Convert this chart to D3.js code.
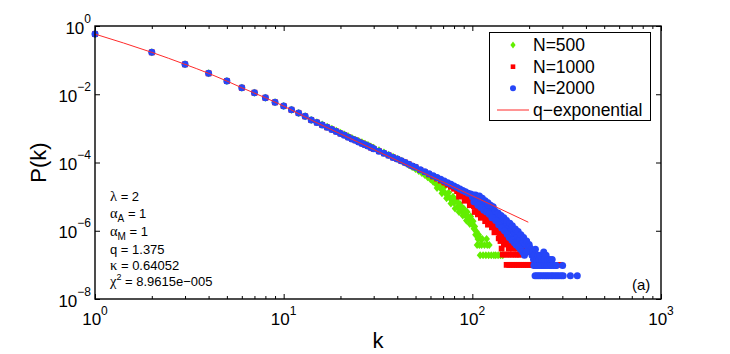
<!DOCTYPE html>
<html><head><meta charset="utf-8">
<script src="https://cdn.jsdelivr.net/npm/d3@7"></script>
<style>body{margin:0;background:#fff}svg{display:block}</style>
</head><body>
<svg id="c" width="730" height="354"></svg>
<script>
// ---- data ----
// head, k = 1..14, shared by all three sizes
const kHead = [1,2,3,4,5,6,7,8,9,10,11,12,13,14];
const pHead = [0.58,0.169,0.0753,0.041,0.0244,0.0155,0.0111,0.0079,0.0058,0.0045,0.0035,0.0028,0.00225,0.00175];
// middle, shared by N=1000 and N=2000
const kMid = [15,16,17,18,19,20,21,22,23,24,25,26,27,28,29,30,32,34,36,38,40,42,44,46,48,50];
const pMid = [1.48e-3,1.26e-3,1.07e-3,9.33e-4,8.13e-4,7.08e-4,6.31e-4,5.50e-4,4.90e-4,4.47e-4,3.98e-4,3.63e-4,3.31e-4,3.02e-4,2.75e-4,2.51e-4,2.14e-4,1.86e-4,1.62e-4,1.41e-4,1.26e-4,1.12e-4,1.00e-4,8.91e-5,7.94e-5,7.24e-5];
// N=500 (own values from k=15)
const kN500 = [15,16,17,18,19,20,21,22,23,24,25,26,27,28,29,30,32,34,36,38,40,42,44,46,48,50,52,54,56,58,60,62,64,66,68,70,72,74,76,78,80,82,84,86,88,90,92,94,96,98,100,101,102,103,104,105,106,107,108,109,110,111,112,113,114,116,118,119,120,122,123,126,130,133,137,141,145,
  63,65,67,69,71,73,75,77,79,81,83,85,87,89,91,93,95,97,99];
const pN500 = [1.51e-3,1.29e-3,1.12e-3,9.77e-4,8.51e-4,7.41e-4,6.61e-4,5.89e-4,5.25e-4,4.68e-4,4.27e-4,3.89e-4,3.55e-4,3.24e-4,2.95e-4,2.69e-4,2.29e-4,1.95e-4,1.70e-4,1.48e-4,1.29e-4,1.12e-4,9.77e-5,8.51e-5,7.41e-5,6.46e-5,5.62e-5,4.90e-5,4.27e-5,3.72e-5,3.24e-5,2.75e-5,2.40e-5,2.00e-5,1.74e-5,1.45e-5,1.26e-5,1.05e-5,9.12e-6,7.59e-6,6.61e-6,7.94e-6,5.01e-6,6.03e-6,3.80e-6,4.47e-6,2.82e-6,3.55e-6,2.09e-6,2.63e-6,1.52e-6,1.9e-6,1.14e-6,1.33e-6,7.6e-7,9.5e-7,3.8e-7,5.7e-7,7.6e-7,3.8e-7,1.9e-7,5.7e-7,3.8e-7,5.7e-7,1.9e-7,3.8e-7,1.9e-7,5.7e-7,3.8e-7,1.9e-7,3.8e-7,1.9e-7,1.9e-7,1.9e-7,1.9e-7,1.9e-7,1.9e-7,
  3.16e-5,1.78e-5,2.40e-5,1.26e-5,1.91e-5,8.91e-6,1.32e-5,6.31e-6,1.0e-5,4.47e-6,7.08e-6,3.55e-6,5.01e-6,2.82e-6,3.98e-6,2.0e-6,2.51e-6,1.58e-6,1.91e-6];
// N=1000 tail (from k=53)
const kN1000 = [53,56,59,62,65,68,71,74,77,80,83,86,89,92,95,98,99,101,102,104,106,108,110,112,114,116,118,120,122,124,126,128,130,132,135,137,140,142,144,145,146,148,149,150,151,152,153,155,156,157,158,160,161,162,164,165,167,168,170,172,173,175,177,179,182,184,187,192,197,202,207,292,
  85,87,91,93,97,103,105,107,109,111,113,117,119,121,123,127,131,134,138,141,143,147];
const pN1000 = [6.03e-5,5.25e-5,4.47e-5,3.89e-5,3.39e-5,2.95e-5,2.57e-5,2.24e-5,1.95e-5,1.70e-5,1.45e-5,1.26e-5,1.07e-5,9.33e-6,7.94e-6,7.08e-6,6.03e-6,7.08e-6,5.25e-6,6.03e-6,4.17e-6,5.01e-6,3.39e-6,4.17e-6,2.82e-6,3.55e-6,2.40e-6,3.02e-6,2.00e-6,2.51e-6,1.66e-6,2.09e-6,1.32e-6,1.74e-6,1.0e-6,1.3e-6,8e-7,1.1e-6,6e-7,2e-7,9e-7,5e-7,7e-7,2e-7,4e-7,1e-7,6e-7,2e-7,3e-7,1e-7,5e-7,2e-7,4e-7,1e-7,3e-7,2e-7,1e-7,4e-7,2e-7,1e-7,3e-7,2e-7,1e-7,2e-7,1e-7,3e-7,1e-7,1e-7,1e-7,1e-7,1e-7,1e-7,
  1.0e-5,1.41e-5,7.59e-6,1.05e-5,5.62e-6,3.55e-6,7.59e-6,3.02e-6,6.31e-6,2.40e-6,4.79e-6,1.91e-6,3.98e-6,1.51e-6,3.16e-6,1.26e-6,9e-7,2.24e-6,6e-7,5e-7,3e-7,4e-7];
// N=2000 tail (from k=53)
const kN2000 = [53,56,59,62,65,68,71,74,77,80,83,86,89,92,95,98,100,101,103,105,106,108,110,112,114,116,118,120,122,124,126,128,130,132,135,137,140,142,145,147,150,152,155,158,160,163,166,169,172,175,178,181,184,187,190,194,197,200,201,203,205,207,209,211,212,213,215,216,217,219,220,222,223,225,226,227,229,230,232,233,236,237,239,241,242,243,246,248,249,251,254,256,258,261,262,265,267,269,274,276,279,281,288,296,301,303,331,360,
  102,104,107,109,111,113,115,117,119,121,123,125,127,129,133,138,143,148,153,157,162,167,171,176,180,185,189,193];
const pN2000 = [6.17e-5,5.37e-5,4.68e-5,4.07e-5,3.63e-5,3.24e-5,2.88e-5,2.57e-5,2.29e-5,2.04e-5,1.86e-5,1.66e-5,1.51e-5,1.38e-5,1.26e-5,1.20e-5,1.00e-5,1.12e-5,8.91e-6,1.05e-5,7.94e-6,8.91e-6,6.61e-6,7.94e-6,5.62e-6,7.08e-6,5.01e-6,6.03e-6,4.17e-6,5.25e-6,3.55e-6,4.47e-6,3.02e-6,3.80e-6,2.51e-6,3.31e-6,2.00e-6,2.82e-6,1.66e-6,2.40e-6,1.41e-6,2.00e-6,1.20e-6,1.66e-6,1.00e-6,1.41e-6,7.94e-7,1.12e-6,6.31e-7,9.55e-7,5.25e-7,7.59e-7,4.47e-7,6.31e-7,3.80e-7,5.01e-7,2.88e-7,3.98e-7,3.36e-7,2.4e-7,2.88e-7,1.92e-7,2.4e-7,1.44e-7,9.6e-8,1.92e-7,4.8e-8,2.88e-7,9.6e-8,1.44e-7,4.8e-8,9.6e-8,1.92e-7,4.8e-8,1.44e-7,9.6e-8,1.92e-7,4.8e-8,9.6e-8,1.44e-7,4.8e-8,9.6e-8,2.4e-7,1.44e-7,4.8e-8,9.6e-8,1.92e-7,4.8e-8,9.6e-8,1.44e-7,4.8e-8,9.6e-8,1.44e-7,4.8e-8,9.6e-8,1.44e-7,4.8e-8,9.6e-8,4.8e-8,9.6e-8,9.6e-8,4.8e-8,4.8e-8,4.8e-8,9.6e-8,4.8e-8,4.8e-8,4.8e-8,
  7.08e-6,1.12e-5,5.62e-6,1.05e-5,4.79e-6,8.91e-6,3.98e-6,7.59e-6,3.55e-6,6.61e-6,3.02e-6,5.62e-6,2.40e-6,5.01e-6,2.0e-6,1.51e-6,1.2e-6,1.0e-6,7.94e-7,6.31e-7,5.25e-7,4.47e-7,3.84e-7,3.36e-7,2.88e-7,2.4e-7,1.92e-7,2.4e-7];
// q-exponential fit curve
const kFit = [1,2,3,4,5,6,8,10,14,20,30,41,60,93,140,198];
const pFit = [0.58,0.169,0.0753,0.041,0.0244,0.0155,0.0079,0.0045,0.00175,6.92e-4,2.41e-4,1.07e-4,3.98e-5,1.28e-5,4.40e-6,1.78e-6];

const xTicks = [1,10,100,1000];
const xTickExp = ["0","1","2","3"];
const yTicks = [1,1e-2,1e-4,1e-6,1e-8];
const yTickExp = ["0","\u22122","\u22124","\u22126","\u22128"];
const seriesNames = ["N=500","N=1000","N=2000"];
const fitName = "q\u2212exponential";
const panelLabel = "(a)";

// ---- drawing ----
const svg = d3.select("#c");
svg.append("rect").attr("width",730).attr("height",354).attr("fill","#fff");
const L=95, R=661, T=26, B=299;
const x = d3.scaleLog().domain([1,1000]).range([L,R]);
const y = d3.scaleLog().domain([1e-8,1]).range([B,T]);
const FONT = "'Liberation Sans', Arial, Helvetica, sans-serif";
const SERIF = "'Liberation Serif', 'Times New Roman', serif";

const colGreen="#62ee00", colRed="#ff0000", colBlue="#2646f8";

function zip(ks, ps){ return ks.map((k,i)=>({k, p:ps[i]})); }
const d500 = zip(kHead,pHead).concat(zip(kN500,pN500));
const d1000 = zip(kHead,pHead).concat(zip(kMid,pMid), zip(kN1000,pN1000));
const d2000 = zip(kHead,pHead).concat(zip(kMid,pMid), zip(kN2000,pN2000));
const dFit = zip(kFit,pFit);

// minor ticks
const xMinor = [];
[1,10,100].forEach(d=>{ for(let m=2;m<=9;m++) xMinor.push(d*m); });

function styleAxis(g){
  g.select(".domain").remove();
  g.selectAll(".tick line").attr("stroke","#000").attr("stroke-width",1);
  g.selectAll(".tick text").remove();
}
svg.append("g").attr("transform",`translate(0,${B})`).call(d3.axisBottom(x).tickValues(xTicks).tickSizeInner(-5).tickSizeOuter(0)).call(styleAxis);
svg.append("g").attr("transform",`translate(0,${B})`).call(d3.axisBottom(x).tickValues(xMinor).tickSizeInner(-3).tickSizeOuter(0)).call(styleAxis);
svg.append("g").attr("transform",`translate(0,${T})`).call(d3.axisTop(x).tickValues(xTicks).tickSizeInner(-5).tickSizeOuter(0)).call(styleAxis);
svg.append("g").attr("transform",`translate(0,${T})`).call(d3.axisTop(x).tickValues(xMinor).tickSizeInner(-3).tickSizeOuter(0)).call(styleAxis);
svg.append("g").attr("transform",`translate(${L},0)`).call(d3.axisLeft(y).tickValues(yTicks).tickSizeInner(-5).tickSizeOuter(0)).call(styleAxis);
svg.append("g").attr("transform",`translate(${R},0)`).call(d3.axisRight(y).tickValues(yTicks).tickSizeInner(-5).tickSizeOuter(0)).call(styleAxis);

// tick labels
xTicks.forEach((v,i)=>{
  const t = svg.append("text").attr("x",x(v)).attr("y",325).attr("text-anchor","middle")
    .style("font-family",FONT).style("font-size","17px").attr("fill","#000");
  t.append("tspan").text("10");
  t.append("tspan").attr("dy",-10).style("font-size","12px").text(xTickExp[i]);
});
yTicks.forEach((v,i)=>{
  const t = svg.append("text").attr("x",91).attr("y",y(v)+7.5).attr("text-anchor","end")
    .style("font-family",FONT).style("font-size","17px").attr("fill","#000");
  t.append("tspan").text("10");
  t.append("tspan").attr("dy",-11).style("font-size","12px").text(yTickExp[i]);
});

// axis titles
svg.append("text").attr("x",(L+R)/2).attr("y",348).attr("text-anchor","middle")
  .style("font-family",FONT).style("font-size","22px").text("k");
svg.append("text").attr("transform",`translate(46,${(T+B)/2}) rotate(-90)`).attr("text-anchor","middle")
  .style("font-family",FONT).style("font-size","22px").text("P(k)");

// markers
const diamond = "M0,-4L3.4,0L0,4L-3.4,0Z";
svg.append("g").selectAll("path").data(d500).join("path")
  .attr("d",diamond).attr("transform",d=>`translate(${x(d.k)},${y(d.p)})`).attr("fill",colGreen);
svg.append("g").selectAll("rect").data(d1000).join("rect")
  .attr("x",d=>x(d.k)-2.9).attr("y",d=>y(d.p)-2.9).attr("width",5.8).attr("height",5.8).attr("fill",colRed);
svg.append("g").selectAll("circle").data(d2000).join("circle")
  .attr("cx",d=>x(d.k)).attr("cy",d=>y(d.p)).attr("r",3.5).attr("fill",colBlue);

// fit line
svg.append("path").datum(dFit)
  .attr("d",d3.line().x(d=>x(d.k)).y(d=>y(d.p)).curve(d3.curveMonotoneX))
  .attr("fill","none").attr("stroke","#ff2a2a").attr("stroke-width",1);

// frame
svg.append("rect").attr("x",L).attr("y",T).attr("width",R-L).attr("height",B-T)
  .attr("fill","none").attr("stroke","#000").attr("stroke-width",1.4);

// legend
const lg = svg.append("g");
lg.append("rect").attr("x",489.5).attr("y",32.5).attr("width",161).attr("height",88)
  .attr("fill","#fff").attr("stroke","#000").attr("stroke-width",1);
const rows = [45,66.7,88.3,110];
lg.append("path").attr("d","M0,-3.6L2.6,0L0,3.6L-2.6,0Z").attr("transform",`translate(513,${rows[0]})`).attr("fill",colGreen);
lg.append("rect").attr("x",513-2.3).attr("y",rows[1]-2.3).attr("width",4.6).attr("height",4.6).attr("fill",colRed);
lg.append("circle").attr("cx",513).attr("cy",rows[2]).attr("r",3).attr("fill",colBlue);
lg.append("line").attr("x1",497).attr("x2",529).attr("y1",rows[3]).attr("y2",rows[3]).attr("stroke","#ff2a2a").attr("stroke-width",1);
seriesNames.concat([fitName]).forEach((s,i)=>{
  lg.append("text").attr("x",533).attr("y",rows[i]+6).style("font-family",FONT).style("font-size","17.5px").text(s);
});

// parameter annotation
const ann = svg.append("g").style("font-family",FONT).style("font-size","13px");
function line(yb, parts){
  const t = ann.append("text").attr("x",110).attr("y",yb);
  parts.forEach(p=>{
    const ts = t.append("tspan").text(p.t);
    if(p.serif) ts.style("font-family",SERIF).style("font-size","14.5px");
    if(p.dy) ts.attr("dy",p.dy);
    if(p.fs) ts.style("font-size",p.fs);
  });
}
line(201,[{t:"\u03bb",serif:true},{t:" = 2"}]);
line(218,[{t:"\u03b1",serif:true},{t:"A",dy:4,fs:"10px"},{t:" = 1",dy:-4}]);
line(236,[{t:"\u03b1",serif:true},{t:"M",dy:4,fs:"10px"},{t:" = 1",dy:-4}]);
line(254,[{t:"q = 1.375"}]);
line(270,[{t:"\u03ba",serif:true},{t:" = 0.64052"}]);
line(286,[{t:"\u03c7",serif:true},{t:"2",dy:-6,fs:"9px"},{t:" = 8.9615e\u2212005",dy:6}]);

svg.append("text").attr("x",632).attr("y",290).style("font-family",FONT).style("font-size","15px").text(panelLabel);
</script>
</body></html>
